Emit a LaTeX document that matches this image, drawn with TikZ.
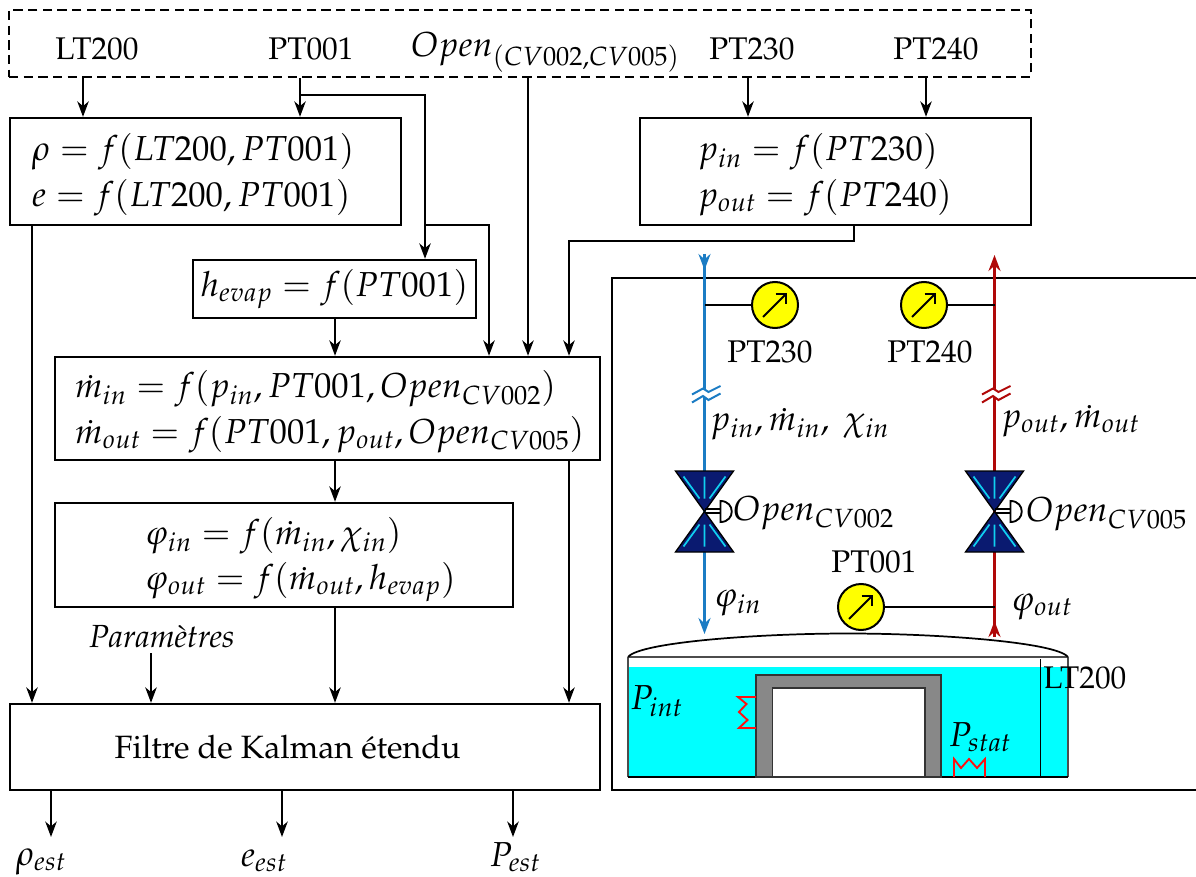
\documentclass[tikz,border=0pt]{standalone}
\usepackage[T1]{fontenc}
\usepackage{mathpazo}
\usetikzlibrary{arrows.meta,calc}
\definecolor{pipeblue}{HTML}{1B7CC4}
\definecolor{pipered}{HTML}{B00808}
\definecolor{valveblue}{HTML}{0A1A70}
\definecolor{valvecyan}{HTML}{10D0F0}
\definecolor{tankgray}{HTML}{888888}
\definecolor{tankcyan}{HTML}{00FFFF}
\definecolor{gaugeyellow}{HTML}{FFFF00}
\definecolor{zigred}{HTML}{FF1010}
\newcommand{\boxline}[1]{\leavevmode\rlap{\raisebox{-2.5pt}[0.8em][0.3em]{$#1$}}}
\tikzset{
  x=0.75pt,y=-0.75pt,
  every node/.style={font=\fontsize{26}{34}\selectfont},
  upr/.style={font=\fontsize{23.5}{34}\selectfont},
  wire/.style={line width=1.8pt,line join=miter},
  arr/.style={wire,-{Stealth[length=11.5pt,width=8.5pt,inset=3.5pt]}},
  plainbox/.style 2 args={draw,line width=1.8pt,inner sep=0pt,minimum width={#1*0.75pt},minimum height={#2*0.75pt},align=center},
  leftbox/.style n args={3}{draw,line width=1.8pt,inner ysep=0pt,minimum height={#2*0.75pt},align=left,
     text width={(#1-2*#3)*0.75pt},inner xsep={#3*0.75pt}},
  lbl/.style={inner sep=0pt},
  gauge/.style={circle,draw,line width=1.5pt,fill=gaugeyellow,minimum size=34.5pt,inner sep=0pt},
  needle/.style={line width=1.5pt,-{Straight Barb[length=5.5pt,width=11pt,line width=1.5pt]}},
  zig/.style={zigred,line width=1.4pt},
  pipe/.style={line width=2pt},
  breakmark/.style={line width=1.5pt},
}
\newcommand{\valvedraw}[1]{%
  \fill[valveblue,draw=black,line width=1pt] ($(#1)+(-29,-40.5)$) -- ($(#1)+(29,-40.5)$) -- (#1) -- cycle;
  \fill[valveblue,draw=black,line width=1pt] ($(#1)+(-29,40.5)$) -- ($(#1)+(29,40.5)$) -- (#1) -- cycle;
  \draw[valvecyan,line width=1.3pt]
    ($(#1)+(0,-35)$) -- ($(#1)+(0,-13)$)
    ($(#1)+(-21,-35)$) -- ($(#1)+(-5,-13)$)
    ($(#1)+(21,-35)$) -- ($(#1)+(5,-13)$)
    ($(#1)+(0,35)$) -- ($(#1)+(0,13)$)
    ($(#1)+(-21,35)$) -- ($(#1)+(-5,13)$)
    ($(#1)+(21,35)$) -- ($(#1)+(5,13)$);
  \draw[line width=1pt] ($(#1)+(0,-2.5)$) -- ($(#1)+(16,-2.5)$) ($(#1)+(0,1.5)$) -- ($(#1)+(16,1.5)$);
  \draw[line width=1.4pt,fill=white] ($(#1)+(16,-10.5)$) -- ($(#1)+(16,10.5)$) .. controls ($(#1)+(31,10.5)$) and ($(#1)+(31,-10.5)$) .. cycle;
}
\newcommand{\breakdraw}[2]{%
  \fill[white] ($(#1)+(-13,-1)$) -- ($(#1)+(-2,-7)$) -- ($(#1)+(4,-4)$) -- ($(#1)+(16,-10)$) -- ($(#1)+(16,-2)$) -- ($(#1)+(4,5)$) -- ($(#1)+(-2,1)$) -- ($(#1)+(-13,7)$) -- cycle;
  \draw[#2,breakmark]
    ($(#1)+(-12.5,-0.5)$) -- ($(#1)+(-1.5,-6.5)$) -- ($(#1)+(4,-3)$) -- ($(#1)+(16,-9)$)
    ($(#1)+(-12.5,7.5)$) -- ($(#1)+(-1.5,1)$) -- ($(#1)+(4,5)$) -- ($(#1)+(16,-1.5)$);
}
\begin{document}
\begin{tikzpicture}
\useasboundingbox (0,0) rectangle (1196,877);

% --- block diagram ---
\node[plainbox={1022}{67},dashed,dash pattern=on 7pt off 4pt] (src) at (520,43.5) {};
\node[lbl,upr] (nLT) at (97,49) {LT200};
\node[lbl,upr] (nPT) at (311,49) {PT001};
\node[lbl,anchor=west] (nOpen) at (411,52) {$Open_{(CV002,CV005)}$};
\node[lbl,upr] (nPTa) at (752,49) {PT230};
\node[lbl,upr] (nPTb) at (936,49) {PT240};

\node[leftbox={391}{107}{22}] (rho) at (205.5,171.5) {\boxline{\rho=f(LT200,PT001)}\\\boxline{e=f(LT200,PT001)}};
\node[leftbox={391}{107}{58}] (pin) at (835.5,171.5) {\boxline{p_{in}=f(PT230)}\\\boxline{p_{out}=f(PT240)}};
\node[plainbox={283}{58}] (hev) at (334.5,289) {$h_{evap}=f(PT001)$};
\node[leftbox={545}{103}{20}] (mfl) at (327.5,408.5) {\boxline{\dot m_{in}=f(p_{in},PT001,Open_{CV002})}\\\boxline{\dot m_{out}=f(PT001,p_{out},Open_{CV005})}};
\node[leftbox={458}{104}{90}] (phi) at (284,555) {\boxline{\varphi_{in}=f(\dot m_{in},\chi_{in})}\\\boxline{\varphi_{out}=f(\dot m_{out},h_{evap})}};
\node[plainbox={590}{86}] (ekf) at (305,747) {\fontsize{24.2}{34}\selectfont Filtre de Kalman \'etendu\hspace*{26pt}};
\node[lbl] (npar) at (162,637) {\fontsize{24}{34}\selectfont\textit{Param\`etres}};
\node[lbl] (nre) at (41,862) {$\rho_{est}$};
\node[lbl] (nee) at (264,861) {$e_{est}$};
\node[lbl] (npe) at (515,857) {$P_{est}$};

\coordinate (jA) at (300,95);
\coordinate (jB) at (425,95);
\coordinate (jC) at (425,225);
\coordinate (jD) at (489,225);
\coordinate (jE) at (854,241);
\coordinate (jF) at (569,241);
\coordinate (jP) at (151,653);

\draw[arr] (83,0 |- src.south) -- (83,0 |- rho.north);
\draw[arr] (jA |- src.south) -- (jA |- rho.north);
\draw[arr] (jA) -- (jB) -- (jB |- hev.north);
\draw[arr] (jC) -- (jD) -- (jD |- mfl.north);
\draw[arr] (528,0 |- src.south) -- (528,0 |- mfl.north);
\draw[arr] (748,0 |- src.south) -- (748,0 |- pin.north);
\draw[arr] (926,0 |- src.south) -- (926,0 |- pin.north);
\draw[arr] (jE |- pin.south) -- (jE) -- (jF) -- (jF |- mfl.north);
\draw[arr] (32,0 |- rho.south) -- (32,0 |- ekf.north);
\draw[arr] (335,0 |- hev.south) -- (335,0 |- mfl.north);
\draw[arr] (335,0 |- mfl.south) -- (335,0 |- phi.north);
\draw[arr] (569,0 |- mfl.south) -- (569,0 |- ekf.north);
\draw[arr] (335,0 |- phi.south) -- (335,0 |- ekf.north);
\draw[arr] (jP) -- (jP |- ekf.north);
\draw[arr] (51,0 |- ekf.south) -- (51,837);
\draw[arr] (282,0 |- ekf.south) -- (282,837);
\draw[arr] (513,0 |- ekf.south) -- (513,837);

% --- plant frame (open on the right) ---
\draw[line width=1.6pt] (1196,278) -- (612,278) -- (612,790) -- (1196,790);

% --- tank ---
\fill[tankcyan] (628,667) rectangle (1068,777);
\draw[line width=0.9pt,draw=black!70] (628,657) -- (1068,657);
\draw[line width=1pt,draw=black!70] (628,657) -- (628,777) (1068,777) -- (1068,657);
\draw[line width=1.4pt] (628,777) -- (1068,777);
\draw[line width=1.2pt,draw=black!80,fill=tankgray] (756,777) -- (756,675) -- (941,675) -- (941,777) -- cycle;
\draw[line width=1.2pt,draw=black!80,fill=white] (772.5,777) -- (772.5,688) -- (925,688) -- (925,777) -- cycle;
\draw[line width=0.8pt] (1040.5,659) -- (1040.5,777);
\draw[zig] (756,697) -- (738,697) -- (746.5,704) -- (739,712) -- (747.5,720) -- (739,728) -- (756,728);
\draw[zig] (954,777) -- (954,759) -- (961,768) -- (969,759) -- (977,768) -- (985,759) -- (985,777);
\node[lbl] (npint) at (656.5,701) {$P_{int}$};
\node[lbl] (npstat) at (980,737) {$P_{stat}$};
\node[lbl,anchor=west,upr] (nLTb) at (1043,678) {LT200};

% --- valves and pipes ---
\coordinate (vA) at (704.5,511.5);
\coordinate (vB) at (994.5,511.5);
\coordinate (pAtop) at (704.5,254);
\coordinate (pBtop) at (994.5,255);
\coordinate (pAbot) at (704.5,634);
\coordinate (pBbot) at (994.5,637);
\coordinate (bA) at (704.5,395);
\coordinate (bB) at (994.5,395);

\draw[pipeblue,pipe] (pAtop) -- (vA);
\draw[pipeblue,pipe,-{Stealth[length=12pt,width=9pt,inset=4pt]}] (vA) -- (pAbot);
\draw[pipeblue,pipe,-{Stealth[length=12pt,width=9pt,inset=4pt]}] (pAtop) -- ($(pAtop)+(0,16)$);
\draw[pipered,pipe] (vB) -- (pBbot);
\draw[pipered,pipe,-{Stealth[length=12pt,width=9pt,inset=4pt]}] (vB) -- (pBtop);
\draw[pipered,pipe,-{Stealth[length=12pt,width=9pt,inset=4pt]}] (pBbot) -- ($(pBbot)+(0,-16)$);

\breakdraw{bA}{pipeblue}
\breakdraw{bB}{pipered}

\valvedraw{vA}
\valvedraw{vB}

% lid
\draw[line width=1.3pt] (628,657) .. controls (640,642) and (760,633.5) .. (848,633.5) .. controls (936,633.5) and (1056,642) .. (1068,657);

% gauges
\node[gauge] (gA) at (775,305) {};
\node[gauge] (gB) at (924,305) {};
\node[gauge] (gC) at (861,607) {};
\draw[wire] (gA.west) -- (pAtop |- gA);
\draw[wire] (gB.east) -- (pBtop |- gB);
\draw[wire] (gC.east) -- (pBtop |- gC);
\foreach \g in {gA,gB,gC}
  \draw[needle] ($(\g)+(-12,12)$) -- ($(\g)+(12,-12)$);

% plant labels
\node[lbl,upr] (lA) at (770,352) {PT230};
\node[lbl,upr] (lB) at (930,352) {PT240};
\node[lbl,upr] (lC) at (874,562) {PT001};
\node[lbl,anchor=west] (lD) at (710,424) {$p_{in},\dot m_{in},\ \chi_{in}$};
\node[lbl,anchor=west] (lE) at (1001,421) {$p_{out},\dot m_{out}$};
\node[lbl,anchor=west] (lF) at (733,513) {$Open_{CV002}$};
\node[lbl,anchor=west] (lG) at (1026,514) {$Open_{CV005}$};
\node[lbl,anchor=west] (lH) at (714,603) {$\varphi_{in}$};
\node[lbl,anchor=west] (lI) at (1011,607) {$\varphi_{out}$};
\end{tikzpicture}
\end{document}
